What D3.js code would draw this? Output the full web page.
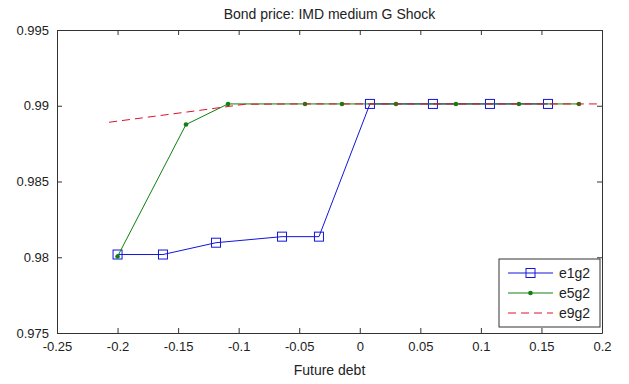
<!DOCTYPE html>
<html>
<head>
<meta charset="utf-8">
<script src="https://cdn.jsdelivr.net/npm/d3@7"></script>
<style>
  html, body { margin: 0; padding: 0; background: #fff; }
  svg { display: block; }
  text { font-family: "Liberation Sans", Arial, sans-serif; fill: #222; }
</style>
</head>
<body>
<svg id="chart" width="629" height="384"></svg>
<script>
// Bond price under a medium government-spending shock, three policy cases
const titleText = "Bond price: IMD medium G Shock";
const xLabel = "Future debt";

const xTicks = [-0.25, -0.2, -0.15, -0.1, -0.05, 0, 0.05, 0.1, 0.15, 0.2];
const yTicks = [0.975, 0.98, 0.985, 0.99, 0.995];

// e1g2 (blue, square markers)
const e1g2X = [-0.2, -0.1625, -0.1187, -0.0642, -0.0337, 0.0084, 0.0604, 0.1075, 0.1554];
const e1g2Y = [0.98018, 0.98018, 0.98096, 0.98136, 0.98136, 0.99012, 0.99012, 0.99012, 0.99012];

// e5g2 (green, dot markers)
const e5g2X = [-0.2, -0.1435, -0.1088, -0.0452, -0.0147, 0.0299, 0.0794, 0.1314, 0.181];
const e5g2Y = [0.98005, 0.98876, 0.99012, 0.99012, 0.99012, 0.99012, 0.99012, 0.99012, 0.99012];

// e9g2 (red, dashed)
const e9g2X = [-0.207, -0.17, -0.13, -0.095, -0.05, 0, 0.05, 0.1, 0.15, 0.2];
const e9g2Y = [0.98891, 0.98930, 0.98972, 0.99010, 0.99012, 0.99012, 0.99012, 0.99012, 0.99012, 0.99012];

const svg = d3.select("#chart");
const mLeft = 57, mRight = 602, mTop = 30, mBottom = 333;

const x = d3.scaleLinear().domain([-0.25, 0.2]).range([mLeft, mRight]);
const y = d3.scaleLinear().domain([0.975, 0.995]).range([mBottom, mTop]);

const axisColor = "#333";
const tickLen = 5;

// Plain-hyphen number labels
const fmtX = d => String(+d.toFixed(2));
const fmtY = d => String(+d.toFixed(3));

// Axes with inward ticks on all four sides
const xBottom = d3.axisBottom(x).tickValues(xTicks).tickSizeInner(-tickLen).tickSizeOuter(0)
  .tickPadding(9).tickFormat(fmtX);
const xTop = d3.axisTop(x).tickValues(xTicks).tickSizeInner(-tickLen).tickSizeOuter(0).tickFormat("");
const yLeft = d3.axisLeft(y).tickValues(yTicks).tickSizeInner(-tickLen).tickSizeOuter(0)
  .tickPadding(8).tickFormat(fmtY);
const yRight = d3.axisRight(y).tickValues(yTicks).tickSizeInner(-tickLen).tickSizeOuter(0).tickFormat("");

function styleAxis(g) {
  g.selectAll("path").attr("stroke", axisColor).attr("stroke-width", 1);
  g.selectAll("line").attr("stroke", axisColor);
  g.selectAll("text").attr("font-size", 13).attr("fill", "#222")
    .attr("font-family", "'Liberation Sans', Arial, sans-serif");
}

svg.append("g").attr("transform", `translate(0,${mBottom})`).call(xBottom).call(styleAxis);
svg.append("g").attr("transform", `translate(0,${mTop})`).call(xTop).call(styleAxis);
svg.append("g").attr("transform", `translate(${mLeft},0)`).call(yLeft).call(styleAxis);
svg.append("g").attr("transform", `translate(${mRight},0)`).call(yRight).call(styleAxis);

// Title and axis label
svg.append("text").attr("x", (mLeft + mRight) / 2).attr("y", 19)
  .attr("text-anchor", "middle").attr("font-size", 14).text(titleText);
svg.append("text").attr("x", (mLeft + mRight) / 2).attr("y", 375)
  .attr("text-anchor", "middle").attr("font-size", 14).text(xLabel);

const line = d3.line().x(d => x(d[0])).y(d => y(d[1]));
const blue = "#1414dc", green = "#108010", red = "#e0102a";

const e1 = e1g2X.map((v, i) => [v, e1g2Y[i]]);
const e5 = e5g2X.map((v, i) => [v, e5g2Y[i]]);
const e9 = e9g2X.map((v, i) => [v, e9g2Y[i]]);

const plot = svg.append("g");

// e1g2
plot.append("path").datum(e1).attr("d", line).attr("fill", "none")
  .attr("stroke", blue).attr("stroke-width", 1);
plot.selectAll("rect.e1").data(e1).join("rect").attr("class", "e1")
  .attr("x", d => x(d[0]) - 4.5).attr("y", d => y(d[1]) - 4.5)
  .attr("width", 9).attr("height", 9)
  .attr("fill", "none").attr("stroke", blue).attr("stroke-width", 1);

// e5g2
plot.append("path").datum(e5).attr("d", line).attr("fill", "none")
  .attr("stroke", green).attr("stroke-width", 1);
plot.selectAll("circle.e5").data(e5).join("circle").attr("class", "e5")
  .attr("cx", d => x(d[0])).attr("cy", d => y(d[1])).attr("r", 2.3)
  .attr("fill", green);

// e9g2
plot.append("path").datum(e9).attr("d", line).attr("fill", "none")
  .attr("stroke", red).attr("stroke-width", 1).attr("stroke-dasharray", "8,5");

// Legend
const lg = svg.append("g");
const lx = 499, ly = 259, lw = 101, lh = 68;
lg.append("rect").attr("x", lx).attr("y", ly).attr("width", lw).attr("height", lh)
  .attr("fill", "#fff").attr("stroke", axisColor).attr("stroke-width", 1);
const entries = [
  { name: "e1g2", color: blue, marker: "square", dash: null },
  { name: "e5g2", color: green, marker: "dot", dash: null },
  { name: "e9g2", color: red, marker: null, dash: "8,5" }
];
entries.forEach((e, i) => {
  const yy = ly + 14 + i * 20;
  lg.append("line").attr("x1", lx + 9).attr("x2", lx + 54).attr("y1", yy).attr("y2", yy)
    .attr("stroke", e.color).attr("stroke-width", 1)
    .attr("stroke-dasharray", e.dash);
  if (e.marker === "square") {
    lg.append("rect").attr("x", lx + 31.5 - 4.5).attr("y", yy - 4.5)
      .attr("width", 9).attr("height", 9).attr("fill", "none").attr("stroke", e.color);
  } else if (e.marker === "dot") {
    lg.append("circle").attr("cx", lx + 31.5).attr("cy", yy).attr("r", 2.3).attr("fill", e.color);
  }
  lg.append("text").attr("x", lx + 60).attr("y", yy + 5).attr("font-size", 14).text(e.name);
});
</script>
</body>
</html>
